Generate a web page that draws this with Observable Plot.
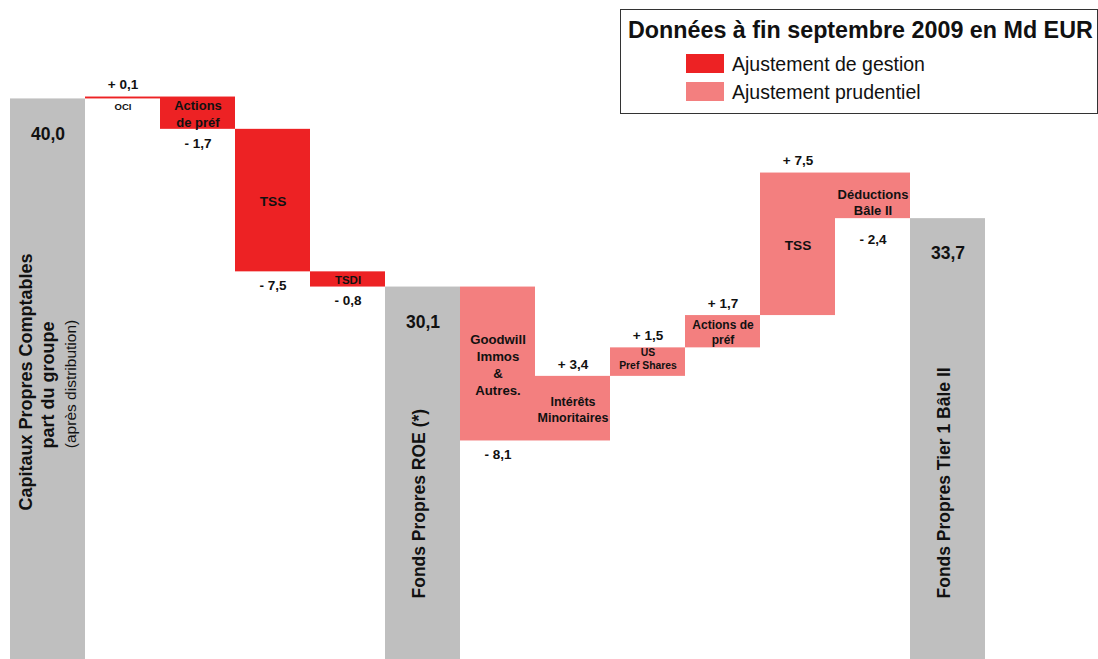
<!DOCTYPE html>
<html><head><meta charset="utf-8">
<script src="https://cdn.jsdelivr.net/npm/d3@7"></script>
<script src="https://cdn.jsdelivr.net/npm/@observablehq/plot@0.6"></script>
<style>
body{margin:0;background:#fff;font-family:"Liberation Sans",Arial,sans-serif;}
#wrap{position:relative;width:1098px;height:659px;overflow:hidden;}
#legend{position:absolute;left:620px;top:9px;width:478px;height:105px;border:1.5px solid #333;box-sizing:border-box;background:#fff;color:#111;}
#legend .title{position:absolute;left:7px;top:7px;font-weight:bold;font-size:23.3px;white-space:nowrap;}
#legend .sw{position:absolute;left:65px;width:38px;height:19px;}
#legend .lab{position:absolute;left:111px;font-size:19.5px;white-space:nowrap;}
</style></head><body>
<div id="wrap"></div>
<script>
// ---- data ----
const ids = ["cap","oci","actG","tssG","tsdi","roe","gw","im","us","actP","tssP","ded","t1"];
const categories = [
  "Capitaux Propres Comptables\npart du groupe\n(après distribution)",
  "OCI", "Actions\nde préf", "TSS", "TSDI",
  "Fonds Propres ROE (*)",
  "Goodwill\nImmos\n&\nAutres.", "Intérêts\nMinoritaires", "US\nPref Shares", "Actions de\npréf", "TSS", "Déductions\nBâle II",
  "Fonds Propres Tier 1 Bâle II"
];
const values = [40.0, 0.1, -1.7, -7.5, -0.8, 30.1, -8.1, 3.4, 1.5, 1.7, 7.5, -2.4, 33.7];
const kinds = ["total","gestion","gestion","gestion","gestion","total","prudentiel","prudentiel","prudentiel","prudentiel","prudentiel","prudentiel","total"];
const legendTitle = "Données à fin septembre 2009 en Md EUR";
const legendKinds = ["gestion","prudentiel"];
const legendLabels = ["Ajustement de gestion","Ajustement prudentiel"];

// ---- style config ----
const colors = {total:"#bfbfbf", gestion:"#ed2224", prudentiel:"#f37f7f"};
const catFont = {oci:9.5, actG:13, tssG:13.7, tsdi:11.5, gw:13.2, im:12.5, us:10.4, actP:12, tssP:13.7, ded:13};
const FONT = "Liberation Sans, Arial, sans-serif";
const ink = "#111";

// ---- waterfall geometry from values ----
let run = 0;
const rows = ids.map((id, i) => {
  const v = values[i], k = kinds[i];
  let y1, y2;
  if (k === "total") { y1 = 0; y2 = v; run = v; }
  else { y1 = run; y2 = run + v; run = y2; }
  return {id, label: categories[i], value: v, kind: k, y1, y2,
          lo: Math.min(y1, y2), hi: Math.max(y1, y2), mid: (y1 + y2) / 2};
});
const fmt = v => v.toFixed(1).replace(".", ",");
const fmtDelta = d => (d.value >= 0 ? "+ " : "- ") + fmt(Math.abs(d.value));

const totals = rows.filter(d => d.kind === "total");
const deltas = rows.filter(d => d.kind !== "total");
const byId = id => rows.filter(d => d.id === id);

const chart = Plot.plot({
  width: 1098, height: 659,
  marginLeft: 10, marginRight: 113, marginTop: 0, marginBottom: 0,
  style: {fontFamily: FONT, background: "white"},
  x: {type: "band", domain: ids, padding: 0, axis: null},
  y: {domain: [10.5, 45.18], axis: null},
  color: {domain: Object.keys(colors), range: Object.values(colors)},
  marks: [
    Plot.rectY(rows, {x: "id", y1: "y1", y2: "y2", fill: "kind", clip: true, inset: 0}),
    // total values
    Plot.text(totals, {x: "id", y: "y2", text: d => fmt(d.value), dy: 35, fontSize: 17.5, fontWeight: "bold", fill: ink}),
    // rotated labels of totals
    Plot.text(byId("cap"), {x: "id", text: d => d.label.split("\n")[0], rotate: -90, frameAnchor: "middle", dy: 52, dx: -22, fontSize: 18, fontWeight: "bold", fill: ink}),
    Plot.text(byId("cap"), {x: "id", text: d => d.label.split("\n")[1], rotate: -90, frameAnchor: "middle", dy: 55, dx: 0, fontSize: 18, fontWeight: "bold", fill: ink}),
    Plot.text(byId("cap"), {x: "id", text: d => d.label.split("\n")[2], rotate: -90, frameAnchor: "middle", dy: 54, dx: 23, fontSize: 15.5, fill: ink}),
    Plot.text(totals.filter(d => d.id !== "cap"), {x: "id", text: "label", rotate: -90, frameAnchor: "bottom", textAnchor: "start", dy: -61, dx: 2, fontSize: 17.5, fontWeight: "bold", fill: ink}),
    // delta values
    Plot.text(deltas.filter(d => d.value < 0 && d.id !== "ded"), {x: "id", y: "lo", text: fmtDelta, dy: 14, fontSize: 13.5, fontWeight: "bold", fill: ink}),
    Plot.text(byId("ded"), {x: "id", y: "lo", text: fmtDelta, dy: 21, fontSize: 13.5, fontWeight: "bold", fill: ink}),
    Plot.text(deltas.filter(d => d.value >= 0), {x: "id", y: "hi", text: fmtDelta, dy: -12, fontSize: 13.5, fontWeight: "bold", fill: ink}),
    // category labels
    Plot.text(byId("oci"), {x: "id", y: "lo", text: "label", dy: 8, fontSize: catFont.oci, fontWeight: "bold", fill: ink}),
    Plot.text(deltas.filter(d => !["oci","us","ded"].includes(d.id)), {x: "id", y: "mid", text: "label", lineHeight: 1.28, fontSize: d => catFont[d.id], fontWeight: "bold", fill: ink}),
    Plot.text(byId("us"), {x: "id", y: "mid", text: "label", dy: -4, lineHeight: 1.25, fontSize: catFont.us, fontWeight: "bold", fill: ink}),
    Plot.text(byId("ded"), {x: "id", y: "mid", text: "label", dy: 6, lineHeight: 1.25, fontSize: catFont.ded, fontWeight: "bold", fill: ink})
  ]
});

const wrap = document.getElementById("wrap");
wrap.appendChild(chart);

// legend
const lg = document.createElement("div");
lg.id = "legend";
let html = `<div class="title">${legendTitle}</div>`;
const tops = [44, 72];
legendKinds.forEach((k, i) => {
  html += `<div class="sw" style="top:${tops[i]}px;background:${colors[k]}"></div>`;
  html += `<div class="lab" style="top:${tops[i] - 1}px">${legendLabels[i]}</div>`;
});
lg.innerHTML = html;
wrap.appendChild(lg);
</script>
</body></html>
